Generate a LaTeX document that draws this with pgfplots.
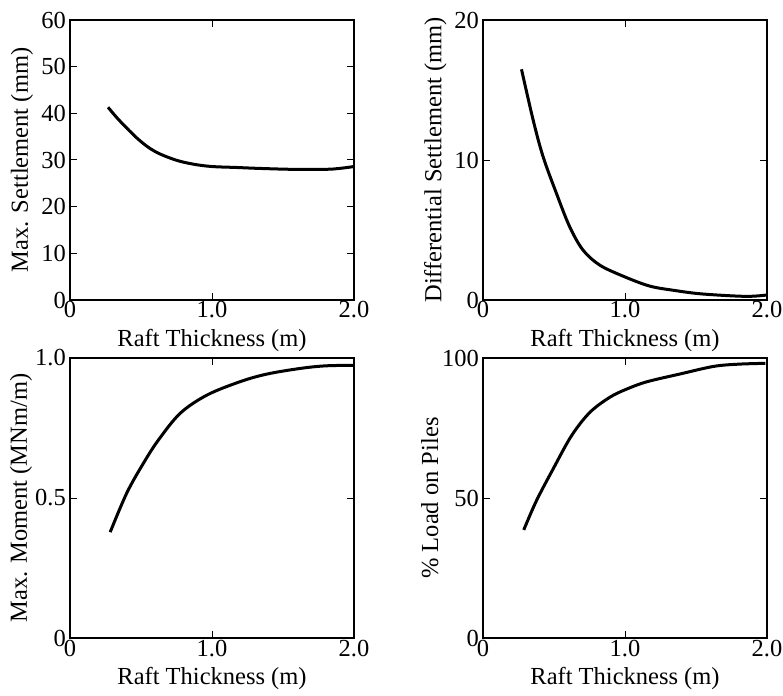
\documentclass[border=0pt]{standalone}
\usepackage{fontspec}
\setmainfont{Liberation Serif}
\usepackage{pgfplots}
\pgfplotsset{compat=1.18}
\pgfplotsset{
  rt/.style={
    scale only axis, width=284pt, height=280pt,
    anchor=north west,
    xmin=0, xmax=2, xtick={0,1,2}, xticklabels={0,1.0,2.0},
    tick align=inside, xtick pos=both, ytick pos=both,
    major tick length=7pt,
    axis line style={line width=2.8pt},
    every tick/.style={black, line width=1pt},
    font=\fontsize{24.5}{28}\selectfont,
    /pgf/number format/assume math mode=true,
    xticklabel style={inner sep=1.5pt},
    yticklabel style={inner sep=4pt},
    xlabel={Raft Thickness (m)},
    xlabel style={at={(axis description cs:0.5,-0.143)}, anchor=center},
    clip=false,
  },
  cv/.style={black, line width=3pt, smooth, tension=0.55, no marks},
}
\begin{document}
\begin{tikzpicture}
\path[use as bounding box] (0,0) rectangle (783pt,-695pt);
% Top left
\begin{axis}[rt, at={(70pt,-20pt)},
  ymin=0, ymax=60, ytick={0,10,20,30,40,50,60}, yticklabels={0,10,20,30,40,50,60},
  ylabel={Max. Settlement (mm)},
  ylabel style={at={(axis description cs:-0.169,0.5)}, anchor=center}]
\addplot[cv] coordinates {
(0.268,41.3) (0.35,38.4) (0.486,34.3) (0.60,31.8) (0.744,30.0) (0.87,29.1) (1.0,28.6)
(1.17,28.4) (1.33,28.2) (1.566,28.0) (1.80,28.0) (1.90,28.2) (2.0,28.6)};
\end{axis}
% Top right
\begin{axis}[rt, at={(483pt,-20pt)},
  ymin=0, ymax=20, ytick={0,10,20}, yticklabels={0,10,20},
  ylabel={Differential Settlement (mm)},
  ylabel style={at={(axis description cs:-0.168,0.5)}, anchor=center}]
\addplot[cv] coordinates {
(0.271,16.48) (0.353,12.86) (0.423,10.24) (0.517,7.62) (0.61,5.24) (0.704,3.57)
(0.821,2.5) (0.985,1.71) (1.172,1.0) (1.35,0.68) (1.546,0.43) (1.85,0.26) (2.0,0.36)};
\end{axis}
% Bottom left
\begin{axis}[rt, at={(70pt,-358pt)},
  ymin=0, ymax=1, ytick={0,0.5,1}, yticklabels={0,0.5,1.0},
  ylabel={Max. Moment (MNm/m)},
  ylabel style={at={(axis description cs:-0.173,0.5)}, anchor=center}]
\addplot[cv] coordinates {
(0.283,0.378) (0.40,0.518) (0.518,0.625) (0.624,0.708) (0.777,0.803) (0.966,0.868)
(1.201,0.916) (1.39,0.943) (1.625,0.963) (1.8,0.972) (2.0,0.974)};
\end{axis}
% Bottom right
\begin{axis}[rt, at={(483pt,-358pt)},
  ymin=0, ymax=100, ytick={0,50,100}, yticklabels={0,50,100},
  ylabel={\% Load on Piles},
  ylabel style={at={(axis description cs:-0.187,0.5)}, anchor=center}]
\addplot[cv] coordinates {
(0.287,38.6) (0.376,49.0) (0.494,60.4) (0.624,72.3) (0.753,80.6) (0.894,86.0)
(1.012,88.9) (1.153,91.5) (1.388,94.3) (1.624,97.0) (1.8,97.8) (1.988,98.1)};
\end{axis}
\end{tikzpicture}
\end{document}
